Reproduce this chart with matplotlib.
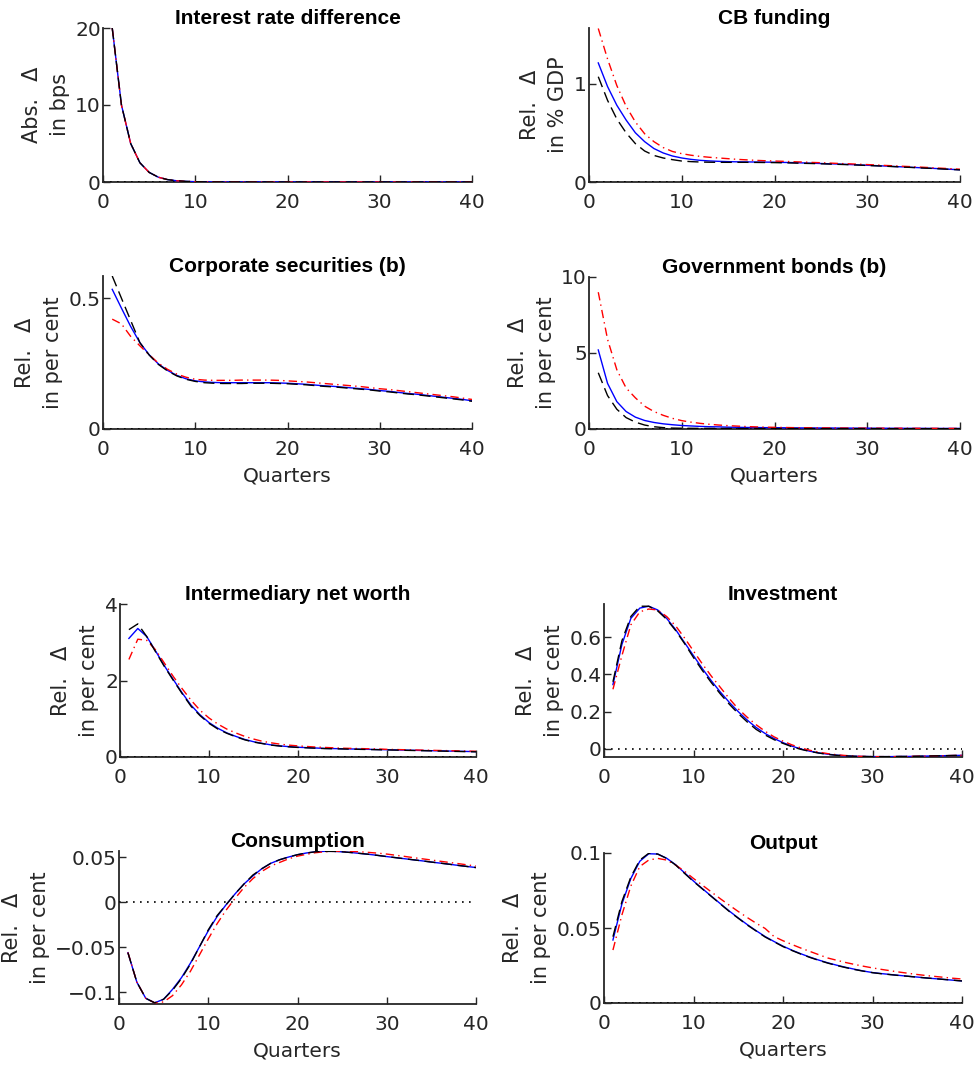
import matplotlib
matplotlib.use("Agg")
import matplotlib.pyplot as plt

quarters = list(range(1, 41))

titles = ["Interest rate difference", "CB funding", "Corporate securities (b)", "Government bonds (b)",
          "Intermediary net worth", "Investment", "Consumption", "Output"]
ylabels = ["Abs. \u2002\u0394\nin bps", "Rel. \u2002\u0394\nin % GDP", "Rel. \u2002\u0394\nin per cent",
           "Rel. \u2002\u0394\nin per cent", "Rel. \u2002\u0394\nin per cent", "Rel. \u2002\u0394\nin per cent",
           "Rel. \u2002\u0394\nin per cent", "Rel. \u2002\u0394\nin per cent"]
xticks = [0, 10, 20, 30, 40]
xtick_labels = ["0", "10", "20", "30", "40"]
yticks = [[0, 10, 20], [0, 1], [0, 0.5], [0, 5, 10], [0, 2, 4], [0, 0.2, 0.4, 0.6],
          [-0.1, -0.05, 0, 0.05], [0, 0.05, 0.1]]
ytick_labels = [["0", "10", "20"], ["0", "1"], ["0", "0.5"], ["0", "5", "10"], ["0", "2", "4"],
                ["0", "0.2", "0.4", "0.6"], ["\u22120.1", "\u22120.05", "0", "0.05"], ["0", "0.05", "0.1"]]
ylims = [(0, 20), (0, 1.565), (0, 0.585), (0, 10), (0, 4), (-0.043, 0.777), (-0.1133, 0.0567), (0, 0.1)]

# ---- data (black dashed / blue solid / red dash-dot) ----
ir_black = [20.0, 10.0, 5.0, 2.5, 1.25, 0.62, 0.31, 0.16, 0.08, 0.04, 0.02, 0.01, 0.005, 0.0025, 0.001, 0.0,
            0.0, 0.0, 0.0, 0.0, 0.0, 0.0, 0.0, 0.0, 0.0, 0.0, 0.0, 0.0, 0.0, 0.0, 0.0, 0.0, 0.0, 0.0, 0.0, 0.0,
            0.0, 0.0, 0.0, 0.0]
ir_blue = [20.0, 10.0, 5.0, 2.5, 1.25, 0.62, 0.31, 0.16, 0.08, 0.04, 0.02, 0.01, 0.005, 0.0025, 0.001, 0.0,
           0.0, 0.0, 0.0, 0.0, 0.0, 0.0, 0.0, 0.0, 0.0, 0.0, 0.0, 0.0, 0.0, 0.0, 0.0, 0.0, 0.0, 0.0, 0.0, 0.0,
           0.0, 0.0, 0.0, 0.0]
ir_red = [20.0, 10.0, 5.0, 2.5, 1.25, 0.62, 0.31, 0.16, 0.08, 0.04, 0.02, 0.01, 0.005, 0.0025, 0.001, 0.0,
          0.0, 0.0, 0.0, 0.0, 0.0, 0.0, 0.0, 0.0, 0.0, 0.0, 0.0, 0.0, 0.0, 0.0, 0.0, 0.0, 0.0, 0.0, 0.0, 0.0,
          0.0, 0.0, 0.0, 0.0]

cb_black = [1.07, 0.83, 0.64, 0.50, 0.39, 0.315, 0.27, 0.244, 0.227, 0.213, 0.207, 0.203, 0.201, 0.200, 0.200,
            0.200, 0.200, 0.199, 0.198, 0.197, 0.195, 0.193, 0.190, 0.188, 0.185, 0.182, 0.179, 0.176, 0.172,
            0.168, 0.164, 0.160, 0.156, 0.151, 0.147, 0.142, 0.138, 0.133, 0.128, 0.123]
cb_blue = [1.21, 0.97, 0.78, 0.63, 0.50, 0.41, 0.34, 0.295, 0.264, 0.244, 0.230, 0.220, 0.214, 0.210, 0.207,
           0.205, 0.204, 0.203, 0.202, 0.201, 0.199, 0.197, 0.194, 0.191, 0.188, 0.185, 0.182, 0.178, 0.174,
           0.170, 0.166, 0.162, 0.157, 0.153, 0.148, 0.144, 0.139, 0.134, 0.129, 0.124]
cb_red = [1.56, 1.25, 0.98, 0.77, 0.61, 0.49, 0.41, 0.35, 0.31, 0.288, 0.272, 0.260, 0.251, 0.244, 0.237,
          0.230, 0.225, 0.220, 0.216, 0.213, 0.210, 0.206, 0.203, 0.199, 0.196, 0.192, 0.188, 0.185, 0.181,
          0.177, 0.173, 0.168, 0.164, 0.159, 0.155, 0.150, 0.145, 0.140, 0.135, 0.130]

corp_black = [0.585, 0.50, 0.415, 0.33, 0.283, 0.247, 0.222, 0.203, 0.19, 0.182, 0.177, 0.175, 0.174, 0.174,
              0.174, 0.175, 0.175, 0.175, 0.174, 0.173, 0.171, 0.169, 0.166, 0.163, 0.161, 0.158, 0.155, 0.152,
              0.149, 0.145, 0.142, 0.138, 0.134, 0.131, 0.127, 0.123, 0.119, 0.115, 0.111, 0.106]
corp_blue = [0.534, 0.462, 0.392, 0.33, 0.284, 0.249, 0.224, 0.205, 0.192, 0.184, 0.180, 0.178, 0.177, 0.177,
             0.177, 0.177, 0.177, 0.177, 0.176, 0.175, 0.173, 0.171, 0.168, 0.165, 0.163, 0.160, 0.157, 0.154,
             0.151, 0.147, 0.144, 0.140, 0.136, 0.133, 0.129, 0.125, 0.121, 0.117, 0.113, 0.108]
corp_red = [0.42, 0.402, 0.354, 0.318, 0.284, 0.252, 0.228, 0.21, 0.198, 0.19, 0.187, 0.186, 0.186, 0.186,
            0.187, 0.187, 0.187, 0.187, 0.186, 0.184, 0.182, 0.180, 0.177, 0.174, 0.171, 0.168, 0.165, 0.162,
            0.158, 0.154, 0.151, 0.147, 0.143, 0.139, 0.135, 0.131, 0.127, 0.123, 0.118, 0.113]

gov_black = [3.7, 2.2, 1.3, 0.75, 0.45, 0.26, 0.15, 0.09, 0.06, 0.05, 0.045, 0.04, 0.04, 0.035, 0.035, 0.035,
             0.03, 0.03, 0.03, 0.03, 0.03, 0.03, 0.03, 0.03, 0.025, 0.025, 0.025, 0.025, 0.025, 0.025, 0.025,
             0.02, 0.02, 0.02, 0.02, 0.02, 0.02, 0.02, 0.02, 0.02]
gov_blue = [5.2, 3.0, 1.8, 1.15, 0.78, 0.56, 0.43, 0.34, 0.28, 0.23, 0.2, 0.17, 0.15, 0.14, 0.12, 0.11, 0.1,
            0.095, 0.09, 0.085, 0.08, 0.075, 0.07, 0.07, 0.065, 0.065, 0.06, 0.06, 0.055, 0.055, 0.05, 0.05,
            0.05, 0.045, 0.045, 0.045, 0.04, 0.04, 0.04, 0.04]
gov_red = [9.0, 5.9, 3.9, 2.7, 2.05, 1.5, 1.15, 0.9, 0.7, 0.55, 0.45, 0.37, 0.31, 0.26, 0.22, 0.19, 0.16, 0.14,
           0.12, 0.11, 0.1, 0.09, 0.085, 0.08, 0.075, 0.07, 0.065, 0.06, 0.06, 0.055, 0.055, 0.05, 0.05, 0.05,
           0.045, 0.045, 0.045, 0.04, 0.04, 0.04]

nw_black = [3.33, 3.48, 3.15, 2.75, 2.36, 2.0, 1.65, 1.32, 1.08, 0.88, 0.73, 0.62, 0.53, 0.45, 0.39, 0.35, 0.31,
            0.285, 0.265, 0.25, 0.24, 0.23, 0.22, 0.215, 0.21, 0.205, 0.2, 0.195, 0.19, 0.185, 0.18, 0.175, 0.17,
            0.165, 0.16, 0.155, 0.15, 0.145, 0.14, 0.135]
nw_blue = [3.1, 3.36, 3.15, 2.77, 2.38, 2.02, 1.67, 1.35, 1.1, 0.9, 0.75, 0.63, 0.54, 0.46, 0.40, 0.355, 0.315,
           0.29, 0.27, 0.255, 0.245, 0.235, 0.225, 0.22, 0.215, 0.21, 0.205, 0.2, 0.195, 0.19, 0.185, 0.18, 0.175,
           0.17, 0.165, 0.16, 0.155, 0.15, 0.145, 0.14]
nw_red = [2.55, 3.08, 3.05, 2.8, 2.45, 2.1, 1.78, 1.48, 1.22, 1.02, 0.86, 0.73, 0.63, 0.54, 0.47, 0.41, 0.37,
          0.335, 0.31, 0.29, 0.275, 0.26, 0.25, 0.24, 0.23, 0.225, 0.22, 0.215, 0.21, 0.2, 0.195, 0.19, 0.185,
          0.18, 0.175, 0.17, 0.165, 0.16, 0.155, 0.15]

inv_black = [0.36, 0.58, 0.71, 0.765, 0.765, 0.74, 0.695, 0.635, 0.565, 0.49, 0.42, 0.355, 0.295, 0.24, 0.19,
             0.145, 0.105, 0.075, 0.05, 0.03, 0.012, -0.002, -0.013, -0.022, -0.029, -0.034, -0.037, -0.039,
             -0.04, -0.041, -0.041, -0.041, -0.04, -0.04, -0.039, -0.038, -0.037, -0.036, -0.035, -0.034]
inv_blue = [0.345, 0.56, 0.70, 0.755, 0.765, 0.745, 0.70, 0.64, 0.57, 0.50, 0.43, 0.365, 0.305, 0.25, 0.20,
            0.155, 0.115, 0.083, 0.056, 0.034, 0.015, 0.0, -0.012, -0.021, -0.028, -0.033, -0.037, -0.039,
            -0.04, -0.041, -0.041, -0.041, -0.04, -0.04, -0.039, -0.038, -0.037, -0.036, -0.035, -0.034]
inv_red = [0.32, 0.50, 0.665, 0.735, 0.75, 0.745, 0.71, 0.66, 0.595, 0.525, 0.455, 0.39, 0.33, 0.27, 0.215,
           0.17, 0.13, 0.095, 0.065, 0.042, 0.022, 0.006, -0.007, -0.017, -0.025, -0.031, -0.035, -0.038,
           -0.04, -0.041, -0.041, -0.041, -0.041, -0.04, -0.039, -0.038, -0.037, -0.036, -0.035, -0.034]

cons_black = [-0.0563, -0.089, -0.107, -0.112, -0.108, -0.098, -0.085, -0.069, -0.050, -0.031, -0.015, -0.003,
              0.009, 0.020, 0.030, 0.037, 0.043, 0.047, 0.050, 0.0526, 0.0545, 0.0558, 0.0563, 0.0563, 0.0558,
              0.055, 0.054, 0.053, 0.0518, 0.0505, 0.0493, 0.0481, 0.0469, 0.0457, 0.0444, 0.0432, 0.042,
              0.0407, 0.0395, 0.0383]
cons_blue = [-0.0563, -0.089, -0.107, -0.112, -0.108, -0.097, -0.084, -0.068, -0.050, -0.032, -0.016, -0.003,
             0.009, 0.020, 0.029, 0.037, 0.043, 0.047, 0.050, 0.0526, 0.0545, 0.0558, 0.0563, 0.0563, 0.0558,
             0.055, 0.054, 0.053, 0.0518, 0.0505, 0.0493, 0.0481, 0.0469, 0.0457, 0.0444, 0.0432, 0.042,
             0.0407, 0.0395, 0.0383]
cons_red = [-0.056, -0.089, -0.107, -0.112, -0.111, -0.104, -0.092, -0.077, -0.059, -0.041, -0.024, -0.009,
            0.004, 0.016, 0.026, 0.034, 0.040, 0.044, 0.048, 0.051, 0.053, 0.0548, 0.0558, 0.0563, 0.0565,
            0.0563, 0.0558, 0.0551, 0.0543, 0.0533, 0.052, 0.0507, 0.0493, 0.048, 0.0467, 0.0453, 0.044, 0.0427,
            0.0413, 0.040]

out_black = [0.0442, 0.0676, 0.084, 0.0953, 0.0998, 0.0993, 0.0964, 0.092, 0.0864, 0.081, 0.076, 0.071, 0.066,
             0.061, 0.0565, 0.052, 0.048, 0.044, 0.0408, 0.0376, 0.035, 0.0326, 0.0304, 0.0284, 0.0266, 0.025,
             0.0236, 0.0223, 0.0212, 0.0202, 0.0195, 0.0189, 0.0183, 0.0178, 0.0172, 0.0167, 0.0162, 0.0157,
             0.0152, 0.0147]
out_blue = [0.042, 0.066, 0.083, 0.0945, 0.0995, 0.0993, 0.0965, 0.0922, 0.0868, 0.0813, 0.0762, 0.0712, 0.0662,
            0.0613, 0.0567, 0.0523, 0.0482, 0.0443, 0.041, 0.0379, 0.0352, 0.0328, 0.0306, 0.0286, 0.0268,
            0.0252, 0.0238, 0.0225, 0.0213, 0.0203, 0.0196, 0.019, 0.0184, 0.0178, 0.0173, 0.0167, 0.0162,
            0.0157, 0.0152, 0.0147]
out_red = [0.0353, 0.0587, 0.078, 0.091, 0.0953, 0.0964, 0.0953, 0.092, 0.0878, 0.083, 0.0785, 0.074, 0.0695,
           0.0652, 0.061, 0.057, 0.0532, 0.0497, 0.0443, 0.0415, 0.039, 0.0366, 0.0344, 0.0322, 0.030, 0.0285,
           0.027, 0.0257, 0.0245, 0.0234, 0.0224, 0.0215, 0.0206, 0.0198, 0.019, 0.0183, 0.0177, 0.0171,
           0.0165, 0.016]

series = [
    (ir_black, ir_blue, ir_red),
    (cb_black, cb_blue, cb_red),
    (corp_black, corp_blue, corp_red),
    (gov_black, gov_blue, gov_red),
    (nw_black, nw_blue, nw_red),
    (inv_black, inv_blue, inv_red),
    (cons_black, cons_blue, cons_red),
    (out_black, out_blue, out_red),
]

# ---- layout (pixels in a 977x1067 figure: left, top, right, bottom) ----
W, H = 977, 1067
boxes = [
    (103, 28, 472, 182), (589, 28, 960, 182),
    (103, 276, 472, 429), (589, 277, 960, 429),
    (120, 604, 476, 757), (604, 604, 962, 757),
    (119, 851, 476, 1004), (604, 853, 962, 1003),
]
show_xlabel = [False, False, True, True, False, False, True, True]

TXT = "#262626"
fig = plt.figure(figsize=(W / 100, H / 100), dpi=100)

for i, (l, t, r, b) in enumerate(boxes):
    ax = fig.add_axes([l / W, 1 - b / H, (r - l) / W, (b - t) / H])
    blk, blu, red = series[i]
    ax.axhline(0, color="black", lw=1.2, dashes=(1.0, 3.2), zorder=1)
    ax.plot(quarters, blu, color="#0000ff", lw=1.0, zorder=3)
    ax.plot(quarters, red, color="#ff0000", lw=1.0, dashes=(6, 3, 1, 3), zorder=4)
    ax.plot(quarters, blk, color="black", lw=1.0, dashes=(8, 4), zorder=5)
    ax.set_xlim(0, 40)
    ax.set_ylim(*ylims[i])
    ax.set_xticks(xticks, xtick_labels)
    ax.set_yticks(yticks[i], ytick_labels[i])
    for s in ("top", "right"):
        ax.spines[s].set_visible(False)
    for s in ("left", "bottom"):
        ax.spines[s].set_color(TXT)
        ax.spines[s].set_linewidth(1.3)
        ax.spines[s].set_zorder(0.5)
    ax.tick_params(axis="both", direction="in", length=5, width=1.0, color=TXT,
                   labelcolor=TXT, labelsize=14.5)
    ax.tick_params(axis="x", pad=8)
    ax.tick_params(axis="y", pad=1.5)
    for lab in ax.get_xticklabels() + ax.get_yticklabels():
        lab.set_family("DejaVu Sans")
    ax.set_title(titles[i], fontsize=15, fontweight="bold", family="Liberation Sans", pad=2.5, color="black")
    ax.set_ylabel(ylabels[i], fontsize=15, family="DejaVu Sans", color=TXT, linespacing=1.5,
                  multialignment="center", labelpad=4)
    if show_xlabel[i]:
        ax.set_xlabel("Quarters", fontsize=14.5, family="DejaVu Sans", color=TXT, labelpad=5)

fig.savefig("out.png", dpi=100)
